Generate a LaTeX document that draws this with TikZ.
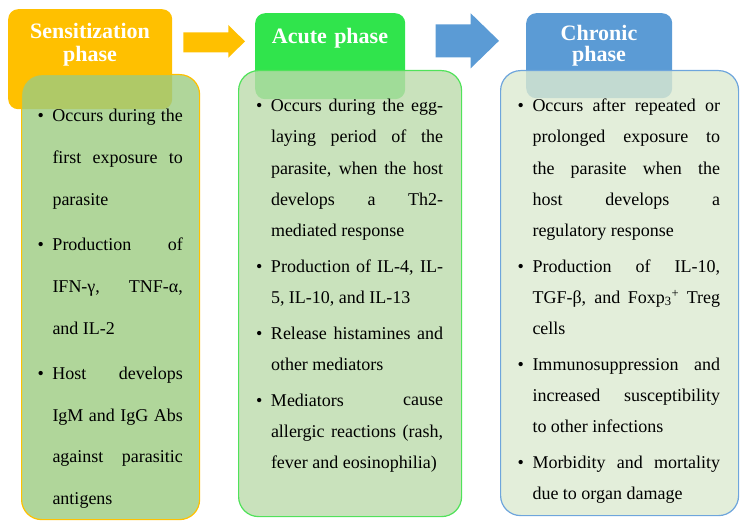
\documentclass[tikz,border=0pt]{standalone}
\usepackage{fontspec}
\setmainfont{Liberation Serif}
\definecolor{hOrange}{RGB}{255,192,0}
\definecolor{hGreen}{RGB}{48,228,76}
\definecolor{hBlue}{RGB}{91,155,213}
\definecolor{bFillA}{RGB}{156,204,129}
\definecolor{bFillB}{RGB}{188,219,171}
\definecolor{bFillC}{RGB}{220,234,209}
\definecolor{bLineB}{RGB}{80,226,90}
\definecolor{bLineC}{RGB}{110,165,220}
\newcommand\bfirst{\hangindent=14.8pt\hangafter=1\noindent\makebox[14.8pt][l]{•}}
\newcommand\bnext[1]{\par\vskip#1\hangindent=14.8pt\hangafter=1\noindent\makebox[14.8pt][l]{•}}
\newcommand\txtsetup{\hbadness=10000\tolerance=10000\hyphenpenalty=10000\exhyphenpenalty=0\parskip=0pt\parindent=0pt\relax}
\tikzset{
  hdrbox/.style={rectangle, rounded corners=10pt, draw=none, inner sep=0pt, anchor=north west},
  bodybox/.style={rectangle, rounded corners=20pt, line width=1.2pt, fill opacity=0.8, inner sep=0pt, anchor=north west},
  hdrtext/.style={text=white, font=\fontsize{22}{22}\selectfont\bfseries, align=center, text width=150pt, inner sep=0pt, anchor=base},
  bodytext/.style={text=black, inner sep=0pt, anchor=base west}
}
\begin{document}
\begin{tikzpicture}[x=1pt,y=-1pt]
\useasboundingbox (0,0) rectangle (744,524);
% headers
\node[hdrbox, fill=hOrange, minimum width=164pt, minimum height=100pt] (h1) at (8,9) {};
\node[hdrbox, fill=hGreen, minimum width=150pt, minimum height=86pt] (h2) at (255,13) {};
\node[hdrbox, fill=hBlue, minimum width=146pt, minimum height=85pt] (h3) at (526,13) {};
% bodies
\node[bodybox, draw=hOrange, fill=bFillA, minimum width=178pt, minimum height=445pt] (b1) at (21,74) {};
\node[bodybox, draw=bLineB, fill=bFillB, minimum width=223pt, minimum height=446pt] (b2) at (238,70) {};
\node[bodybox, draw=bLineC, fill=bFillC, minimum width=238pt, minimum height=445pt] (b3) at (500,70) {};
% arrows
\fill[hOrange] (183.3,32.3) -- (228.3,32.3) -- (228.3,25) -- (245,41.4) -- (228.3,57.7) -- (228.3,52.3) -- (183.3,52.3) -- cycle;
\fill[hBlue] (435.7,24.3) -- (470.7,24.3) -- (470.7,13.3) -- (499,40.8) -- (470.7,68.3) -- (470.7,57.3) -- (435.7,57.3) -- cycle;
% header texts
\node[hdrtext] (l1) at (90,38.5) {Sensitization\\[0.7pt]phase};
\node[hdrtext] (l2) at (330,44) {Acute phase};
\node[hdrtext] (l3) at (599,41) {Chronic\\[-1pt]phase};
% body texts
\node[bodytext] (t1) at (37.5,121.7) {\begin{minipage}[t]{145.2pt}\fontsize{18}{41.9}\selectfont\txtsetup
\bfirst Occurs during the\linebreak first exposure to\linebreak parasite
\bnext{3pt}Production of\linebreak IFN-γ, TNF-α,\linebreak and IL-2
\bnext{3pt}Host develops\linebreak IgM and IgG Abs\linebreak against parasitic\linebreak antigens\par
\end{minipage}};
\node[bodytext] (t2) at (256,111.7) {\begin{minipage}[t]{187pt}\fontsize{18}{31.2}\selectfont\txtsetup
\bfirst Occurs during the egg-\linebreak laying period of the\linebreak parasite, when the host\linebreak develops a Th2-\linebreak mediated response
\bnext{4.5pt}Production of IL-4, IL-\linebreak 5, IL-10, and IL-13
\bnext{4.5pt}Release histamines and\linebreak other mediators
\bnext{4.5pt}Mediators cause\linebreak allergic reactions (rash,\linebreak fever and eosinophilia)\par
\end{minipage}};
\node[bodytext] (t3) at (517.5,111.7) {\begin{minipage}[t]{202.5pt}\fontsize{18}{31.2}\selectfont\txtsetup
\bfirst Occurs after repeated or\linebreak prolonged exposure to\linebreak the parasite when the\linebreak host develops a\linebreak regulatory response
\bnext{4.5pt}Production of IL-10,\linebreak TGF-β, and Foxp\textsubscript{3}\textsuperscript{+} Treg\linebreak cells
\bnext{4.5pt}Immunosuppression and\linebreak increased susceptibility\linebreak to other infections
\bnext{4.5pt}Morbidity and mortality\linebreak due to organ damage\par
\end{minipage}};
\end{tikzpicture}
\end{document}
